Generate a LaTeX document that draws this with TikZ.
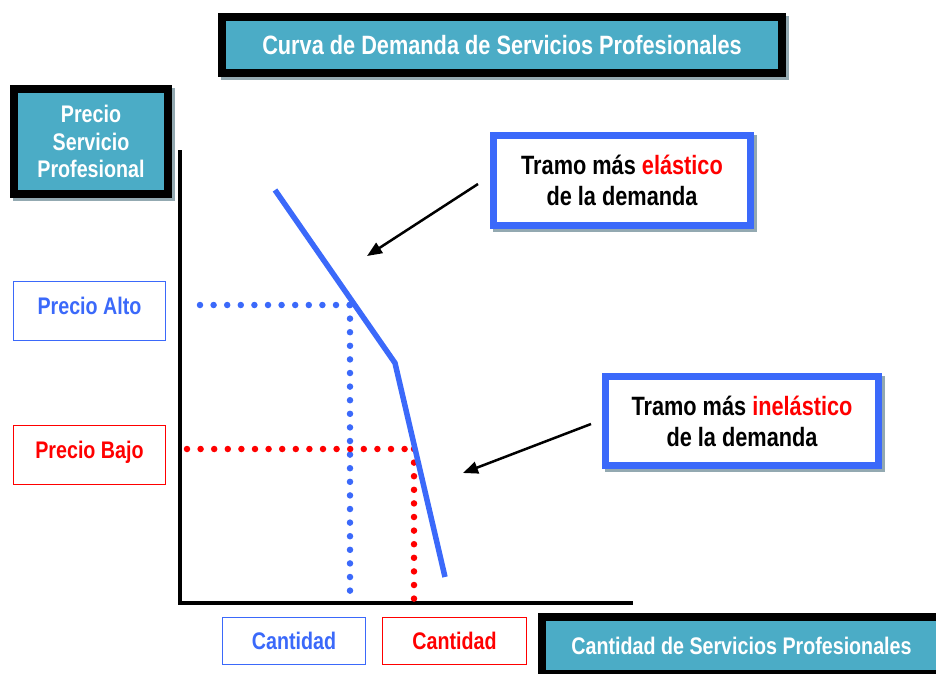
\documentclass[tikz,border=0pt]{standalone}
\usepackage{fontspec}
\setmainfont{Liberation Sans}[FakeStretch=0.82]
\usetikzlibrary{arrows.meta,backgrounds}
\definecolor{cajaazul}{RGB}{75,172,198}
\definecolor{sombra}{RGB}{147,169,177}
\definecolor{azul}{RGB}{59,105,250}
\definecolor{rojo}{RGB}{255,0,0}
\newcommand{\fgrande}{\bfseries\fontsize{26.5pt}{31pt}\selectfont}
\newcommand{\fmedia}{\bfseries\fontsize{24pt}{27.5pt}\selectfont}

\begin{document}
\begin{tikzpicture}[x=1pt,y=-1pt,
  titulo/.style={draw=black, line width=8pt, fill=cajaazul, text=white, inner sep=0pt, align=center},
  tramo/.style={draw=azul, line width=7pt, fill=white, inner sep=0pt, align=center, font=\fgrande},
  etiqueta/.style={line width=1.5pt, fill=white, inner sep=0pt, font=\fmedia, text height=17pt, text depth=0pt},
  punteado/.style={line width=6.5pt, line cap=round, dash pattern=on 0pt off 13.6pt},
  flecha/.style={line width=2.5pt, -{Triangle[length=15pt,width=12pt]}}]
\useasboundingbox (0,0) rectangle (936,673);

\node[titulo, minimum width=560pt, minimum height=56pt, font=\fgrande] (titulo) at (502,45) {Curva de Demanda de Servicios Profesionales};
\node[titulo, minimum width=154pt, minimum height=105pt, font=\fmedia] (precio) at (91,141.5) {Precio\\Servicio\\Profesional};
\node[titulo, minimum width=399pt, minimum height=57pt, font=\fmedia] (cantserv) at (741.5,645.5) {Cantidad de Servicios Profesionales};

\node[tramo, minimum width=257pt, minimum height=90pt] (elastico) at (622,180.5) {Tramo más \textcolor{rojo}{elástico}\\de la demanda};
\node[tramo, minimum width=273pt, minimum height=89pt] (inelastico) at (742,421) {Tramo más \textcolor{rojo}{inelástico}\\de la demanda};

\node[etiqueta, draw=azul, text=azul, text depth=11pt, minimum width=152pt, minimum height=59pt] (alto) at (89.5,311) {Precio Alto};
\node[etiqueta, draw=rojo, text=rojo, text depth=11pt, minimum width=152pt, minimum height=59pt] (bajo) at (89.5,455) {Precio Bajo};
\node[etiqueta, draw=azul, text=azul, minimum width=143pt, minimum height=47pt] (cantalto) at (294,641) {Cantidad};
\node[etiqueta, draw=rojo, text=rojo, minimum width=144pt, minimum height=47pt] (cantbajo) at (454.5,641) {Cantidad};

\begin{scope}[on background layer]
\foreach \caja in {titulo,precio,cantserv,elastico,inelastico}
  \fill[sombra] ([shift={(3,3)}]\caja.north west) rectangle ([shift={(3,3)}]\caja.south east);
\end{scope}

\coordinate (ejey) at (180,150);
\coordinate (origen) at (180,603);
\coordinate (ejex) at (633,603);
\draw[line width=4.5pt] (ejey) -- (origen) -- (ejex);

\coordinate (altoy) at (200,305);
\coordinate (alto) at (350,305);
\coordinate (altox) at (350,604);
\coordinate (bajoy) at (187,449);
\coordinate (bajo) at (414,449);
\coordinate (bajox) at (414,599);
\draw[azul, punteado] (altoy) -- (alto);
\draw[azul, punteado] (alto) -- (altox);
\draw[rojo, punteado] (bajoy) -- (bajo);
\draw[rojo, punteado] (bajo) -- (bajox);

\coordinate (inicio) at (275,190);
\coordinate (quiebre) at (395,363);
\coordinate (final) at (445,577);
\draw[azul, line width=5.5pt] (inicio) -- (quiebre) -- (final);

\coordinate (colaA) at (478,184);
\coordinate (puntaA) at (367,256);
\coordinate (colaB) at (591,424);
\coordinate (puntaB) at (463,473);
\draw[flecha] (colaA) -- (puntaA);
\draw[flecha] (colaB) -- (puntaB);

\end{tikzpicture}
\end{document}
